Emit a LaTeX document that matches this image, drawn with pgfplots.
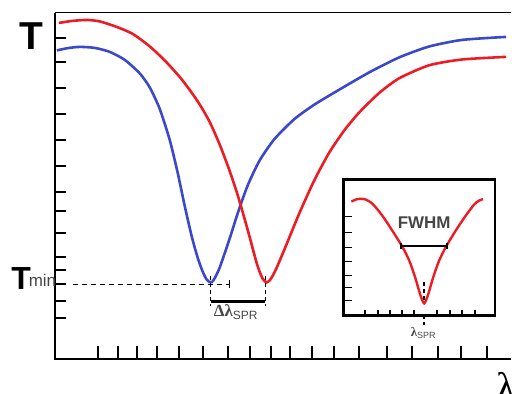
\documentclass[border=0pt]{standalone}
\usepackage{pgfplots}
\pgfplotsset{compat=1.18}
\usepackage{fontspec}
\setmainfont{Liberation Sans}
\newfontfamily\serif{Liberation Serif}
\usetikzlibrary{calc}
\definecolor{cred}{RGB}{237,28,36}
\definecolor{cblue}{RGB}{60,72,204}
\definecolor{tgray}{RGB}{70,70,70}
\pgfplotstableread{
x y
57 343.5
68 345.8
80 347
95 346
110 342
125 334
140 320.5
150 306.5
160 285
170 254
178 221
185 188
192 157.5
198 136
203 122
207 114
211 111
214 113.3
220 125.6
230 154.6
238 179.8
248 207.8
260 233
275 254.7
295 274.7
315 289.2
340 304.2
370 321.5
400 336.5
430 347.4
463 354
507 357
}\blue
\pgfplotstableread{
x y
59 371
72 373
87 374
100 372.5
117 367
133 360
150 347.5
165 333.5
180 317
190 304
200 289.5
210 272
220 249.5
230 223
238 199
245 175
250 157
254 142
257 131
260 122
263 115
265 112.5
267 111
270 112.8
273 117.3
277 125.3
285 144.1
300 180.5
315 213.5
330 241.3
345 263.4
360 281.4
380 300.9
400 315.6
430 328.6
463 334.4
507 337
}\red
\pgfplotstableread{
x y
352 192
358 194.5
365 194.5
373 190
383 178
393 163
403 147
410 133
416 116
421 99
425 90
429 99
434 116
440 133
447 147
456 162
466 177
475 189
480 193
484 194.5
}\inset
\begin{document}
\begin{tikzpicture}
\begin{axis}[
  name=main,
  x=0.5pt, y=0.5pt,
  xmin=55, xmax=512, ymin=34, ymax=381.3,
  axis line style={draw=none},
  clip=false,
  xtick={97.7,118,137,157,179,203,228,250,272,291,313,335,360,388,413,439,462,488},
  xticklabels={},
  xtick pos=bottom,
  ytick=\empty,
  extra y ticks={356.3,332.3,306,280,254,228,202,182.3,161,136,123.3,109,92,75},
  extra y tick labels={},
  extra y tick style={major tick length=5.5pt},
  ytick pos=left,
  tick align=inside,
  major tick length=6.5pt,
  tick style={line width=1pt, black},
]
\path (axis cs:0,0) rectangle (axis cs:512,394);
\draw[line width=1pt] (axis cs:55,381.3) -- (axis cs:55,34) -- (axis cs:512,34);
\draw[line width=0.8pt] (axis cs:55,381.3) -- (axis cs:512,381.3);
\addplot[cblue, line width=1.3pt, smooth, tension=0.4] table {\blue};
\addplot[cred, line width=1.3pt, smooth, tension=0.4] table {\red};
% annotations
\draw[line width=0.9pt, dash pattern=on 2.5pt off 2pt] (axis cs:73,109) -- (axis cs:230,109);
\draw[line width=0.9pt] (axis cs:230,105) -- (axis cs:230,113);
\draw[line width=0.9pt, dash pattern=on 2pt off 1.5pt] (axis cs:211,117) -- (axis cs:211,87);
\draw[line width=0.9pt, dash pattern=on 2pt off 1.5pt] (axis cs:266,117) -- (axis cs:266,87);
\draw[line width=1.2pt] (axis cs:211,92) -- (axis cs:266,92);
\node[anchor=base west, inner sep=0pt, text=tgray] at (axis cs:214,77)
  {{\serif\fontsize{8.5}{9}\selectfont\bfseries Δλ}{\fontsize{6}{6}\selectfont\raisebox{-1.5pt}{SPR}}};
\node[anchor=center, inner sep=0pt] at (axis cs:31,358) {\fontsize{19.5}{20}\selectfont\bfseries T};
\node[anchor=base west, inner sep=0pt] at (axis cs:11,104) {\fontsize{16}{16}\selectfont\bfseries T};
\node[anchor=base west, inner sep=0pt, text=tgray] at (axis cs:28.5,107) {\fontsize{8.5}{9}\selectfont min};
\node[anchor=north west, inner sep=0pt, overlay] at (axis cs:497,21) {\serif\fontsize{20}{20}\selectfont λ};
\end{axis}
\begin{axis}[
  at={($(main.south west)+(144.5pt,22pt)$)}, anchor=south west,
  x=0.5pt, y=0.5pt,
  xmin=344, xmax=496, ymin=78, ymax=214,
  axis line style={line width=1.2pt},
  axis background/.style={fill=white},
  clip=false,
  xtick={366,379,391,403,415,438,451,463,476},
  xticklabels={},
  xtick pos=bottom,
  ytick=\empty,
  extra y ticks={177,161,146,132,118,106,93},
  extra y tick labels={},
  extra y tick style={major tick length=4.5pt},
  ytick pos=left,
  tick align=inside,
  major tick length=2.5pt,
  tick style={line width=0.8pt, black},
]
\addplot[cred, line width=1.2pt, smooth, tension=0.45] table {\inset};
\draw[line width=1pt] (axis cs:402,148) -- (axis cs:448,148);
\draw[line width=0.8pt] (axis cs:402,145) -- (axis cs:402,151);
\draw[line width=0.8pt] (axis cs:448,145) -- (axis cs:448,151);
\node[text=tgray] at (axis cs:425,171) {\fontsize{8.5}{9}\selectfont\bfseries FWHM};
\draw[line width=0.8pt, dash pattern=on 2pt off 1.5pt] (axis cs:425,111) -- (axis cs:425,93);
\draw[line width=0.8pt, dash pattern=on 2pt off 1.5pt] (axis cs:425,78) -- (axis cs:425,68);
\node[anchor=base, inner sep=0pt, text=tgray] at (axis cs:424,57)
  {{\serif\fontsize{6.5}{7}\selectfont\bfseries λ}{\fontsize{4.5}{5}\selectfont\raisebox{-1pt}{SPR}}};
\end{axis}
\end{tikzpicture}
\end{document}
